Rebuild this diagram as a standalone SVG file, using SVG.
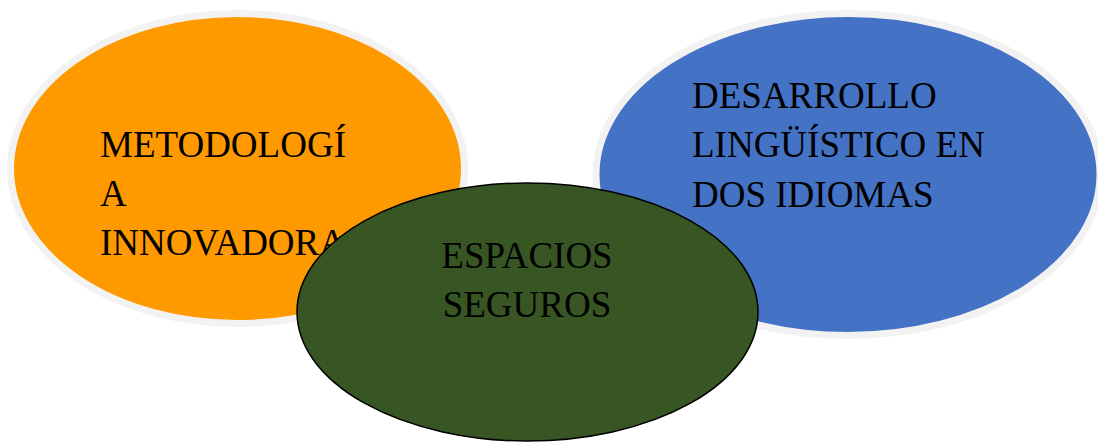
<svg xmlns="http://www.w3.org/2000/svg" width="1098" height="442" viewBox="0 0 1098 442">
<style>
.lbl{font-family:"Liberation Serif","Times New Roman",serif;font-size:37px;fill:#000}
.outer{stroke:#f2f2f2;stroke-width:7}
</style>
<rect width="1098" height="442" fill="#fff"/>
<g id="node-metodologia">
<ellipse class="outer" cx="237.5" cy="168.5" rx="227" ry="155" fill="#ff9900"/>
<text class="lbl" x="100" y="157">METODOLOGÍ</text>
<text class="lbl" x="100" y="206">A</text>
<text class="lbl" x="100" y="255">INNOVADORA</text>
</g>
<g id="node-desarrollo">
<ellipse class="outer" cx="848" cy="174.5" rx="252" ry="161" fill="#4472c4"/>
<text class="lbl" x="692" y="108">DESARROLLO</text>
<text class="lbl" x="692" y="157">LINGÜÍSTICO EN</text>
<text class="lbl" x="692" y="207">DOS IDIOMAS</text>
</g>
<g id="node-espacios">
<ellipse cx="527.5" cy="312" rx="230.5" ry="129" fill="#375623" stroke="#000" stroke-width="1.5"/>
<text class="lbl" x="527" y="268" text-anchor="middle">ESPACIOS</text>
<text class="lbl" x="527" y="317" text-anchor="middle">SEGUROS</text>
</g>
<g id="connectors"/>
</svg>
